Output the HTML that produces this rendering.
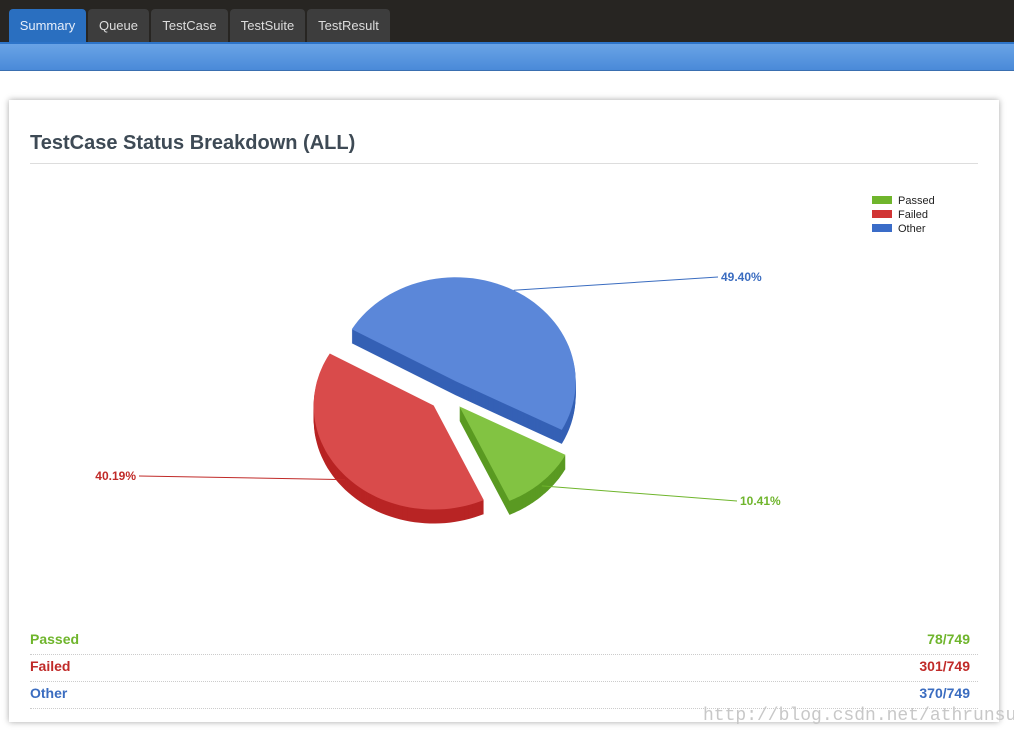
<!DOCTYPE html>
<html><head><meta charset="utf-8">
<style>
body{margin:0;width:1014px;height:736px;overflow:hidden;background:#fff;font-family:"Liberation Sans",sans-serif;position:relative}
#nav{position:absolute;left:0;top:0;width:1014px;height:42px;background:#272522}
.tab{position:absolute;top:9px;height:33px;background:#3d3d3d;color:#ddd;font-size:13px;line-height:33px;text-align:center;border-radius:4px 4px 0 0}
#band{position:absolute;left:0;top:42px;width:1014px;height:29px;background:linear-gradient(#69a3e6,#4a8ad8);border-top:2px solid #2d74c9;box-sizing:border-box;border-bottom:1px solid #3a6fb0}
#card{position:absolute;left:9px;top:100px;width:990px;height:622px;background:#fff;box-shadow:0 0 6px rgba(0,0,0,.35)}
#title{position:absolute;left:30px;top:132px;font-size:20px;font-weight:bold;color:#3e4a55}
#hr{position:absolute;left:30px;top:163px;width:948px;border-top:1px solid #ddd}
.row{position:absolute;left:30px;width:948px;height:27px;border-bottom:1px dotted #ccc;font-size:14px;font-weight:bold;line-height:24px}
.row span{position:absolute;right:8px}
#wm{position:absolute;left:703px;top:706px;font-family:"Liberation Mono",monospace;font-size:18px;color:#c8c8c8}
</style></head><body>
<div id="nav">
<div class="tab" style="left:9px;width:77px;background:#2a6fc0;color:#e6eefa">Summary</div>
<div class="tab" style="left:88px;width:61px">Queue</div>
<div class="tab" style="left:151px;width:77px">TestCase</div>
<div class="tab" style="left:230px;width:75px">TestSuite</div>
<div class="tab" style="left:307px;width:83px">TestResult</div>
</div>
<div id="band"></div>
<div id="card"></div>
<div id="title">TestCase Status Breakdown (ALL)</div>
<div id="hr"></div>
<svg id="chart" width="1014" height="736" style="position:absolute;left:0;top:0"></svg>
<div class="row" style="top:627px;color:#6fb52c">Passed<span>78/749</span></div>
<div class="row" style="top:654px;color:#c02a28">Failed<span>301/749</span></div>
<div class="row" style="top:681px;color:#3a6cc0">Other<span>370/749</span></div>
<div id="wm">http://blog.csdn.net/athrunsun</div>
<script>
const categories=["Other","Passed","Failed"];
const counts=[370,78,301];
const legendOrder=["Passed","Failed","Other"];
const topColors={Other:"#5b87d9",Passed:"#82c342",Failed:"#d94b4b"};
const sideColors={Other:"#3560b5",Passed:"#5a9a22",Failed:"#b82424"};
const legendColors={Passed:"#6fb52c",Failed:"#d13434",Other:"#3a6cc8"};
const labelColors={Passed:"#6fb52c",Failed:"#c02a28",Other:"#3a6cc0"};
const svg=document.getElementById('chart');const NS="http://www.w3.org/2000/svg";
function mk(t,a){const e=document.createElementNS(NS,t);for(const k in a)e.setAttribute(k,a[k]);svg.appendChild(e);return e;}
const cx=447,cy=395,rx=120,ry=104,depth=14,expl=18,start=210;
const total=counts.reduce((a,b)=>a+b,0);
function pt(x0,y0,a){const r=a*Math.PI/180;return [x0+rx*Math.cos(r),y0+ry*Math.sin(r)];}
function path(x0,y0,a0,a1){let d=`M${x0},${y0}`;for(let a=a0;a<=a1+0.01;a+=(a1-a0)/60){const p=pt(x0,y0,a);d+=`L${p[0].toFixed(1)},${p[1].toFixed(1)}`;}return d+"Z";}
let a=start;const slices=[];
categories.forEach((c,i)=>{const sweep=counts[i]/total*360;const mid=a+sweep/2;const r=mid*Math.PI/180;
slices.push({c,a0:a,a1:a+sweep,ox:cx+expl*Math.cos(r),oy:cy+expl*0.87*Math.sin(r),pct:counts[i]/total*100,mid});a+=sweep;});
[0,2,1].forEach(i=>{const s=slices[i];
for(let d=depth;d>0;d--){const e=mk('path',{d:path(s.ox,s.oy+d,s.a0,s.a1),fill:sideColors[s.c]});

}
const t=mk('path',{d:path(s.ox,s.oy,s.a0,s.a1),fill:topColors[s.c]});


// label
const p=pt(s.ox,s.oy,s.mid);const right=Math.cos(s.mid*Math.PI/180)>0;
const ly=s.c==="Other"?277:(s.c==="Passed"?501:476);
const lx=right?(s.c==="Other"?718:737):139;
const ln=mk('polyline',{points:`${p[0]},${p[1]+(Math.sin(s.mid*Math.PI/180)>0?4:0)} ${lx},${ly}`,fill:'none',stroke:labelColors[s.c],'stroke-width':1});


const tx=mk('text',{x:right?lx+3:lx-3,y:ly+4,'font-size':12,'font-weight':'bold',fill:labelColors[s.c],'text-anchor':right?'start':'end','font-family':'Liberation Sans, sans-serif'});
tx.textContent=s.pct.toFixed(2)+"%";


});
legendOrder.forEach((c,i)=>{const y=196+i*14;
const r=mk('rect',{x:872,y:y,width:20,height:8,fill:legendColors[c]});


const t=mk('text',{x:898,y:y+8,'font-size':11,fill:'#222','font-family':'Liberation Sans, sans-serif'});
t.textContent=c;

});
</script>
</body></html>
